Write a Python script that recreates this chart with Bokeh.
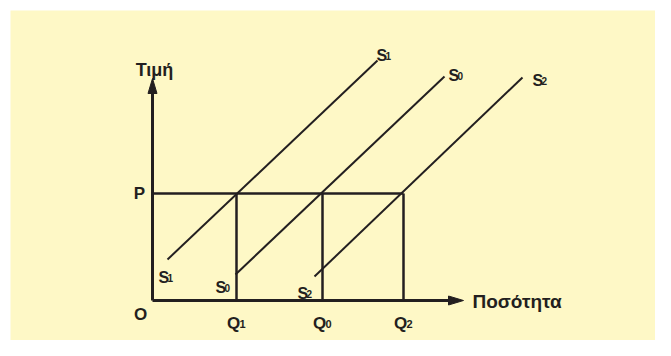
from bokeh.plotting import figure
from bokeh.models import Range1d, ColumnDataSource
from bokeh.embed import file_html
from bokeh.resources import INLINE
from bokeh.core.properties import value

# ---- diagram data (units measured from the origin O) ----
price_level = 107
price_label = "P"
origin_label = "O"
q_base = "Q"
q_subs = ["1", "0", "2"]
q_values = [84, 170, 251]
s_base = "S"
s_subs = ["1", "0", "2"]
supply_x0 = [15, 83, 162]
supply_y0 = [41, 26, 24]
supply_x1 = [225, 292, 370]
supply_y1 = [240, 224, 223]
top_label_x = [224, 296, 380]
top_label_y = [245, 225, 220]
bottom_label_x = [6, 63, 145]
bottom_label_y = [23, 13, 7]
x_axis_end = 311
y_axis_end = 222
x_title = "Ποσότητα"
y_title = "Τιμή"

INK = "#231f20"
BG = "#fef8c6"
FONT = value("Liberation Sans")

p = figure(width=655, height=340, x_range=Range1d(-142, 503), y_range=Range1d(-40, 290),
           output_backend="svg", toolbar_location=None,
           min_border_left=10, min_border_top=10, min_border_right=0, min_border_bottom=0)
p.border_fill_color = "white"
p.background_fill_color = BG
p.outline_line_color = None
p.xaxis.visible = False
p.yaxis.visible = False
p.xgrid.visible = False
p.ygrid.visible = False

# axes with arrowheads
head_len, head_half = 15, 4.5
p.segment(x0=[0, 0], y0=[0, 0], x1=[x_axis_end - head_len + 2, 0], y1=[0, y_axis_end - head_len + 2],
          line_color=INK, line_width=3)
p.patches(xs=[[x_axis_end, x_axis_end - head_len, x_axis_end - head_len],
              [0, -head_half, head_half]],
          ys=[[0, head_half, -head_half],
              [y_axis_end, y_axis_end - head_len, y_axis_end - head_len]],
          fill_color=INK, line_color=INK, line_width=1)

# price line and quantity drops
p.segment(x0=[0], y0=[price_level], x1=[max(q_values)], y1=[price_level], line_color=INK, line_width=2.5)
p.segment(x0=q_values, y0=[0] * 3, x1=q_values, y1=[price_level] * 3, line_color=INK, line_width=2.5)

# supply curves
p.segment(x0=supply_x0, y0=supply_y0, x1=supply_x1, y1=supply_y1, line_color=INK, line_width=2)

# supply labels
lab = ColumnDataSource(dict(x=top_label_x + bottom_label_x, y=top_label_y + bottom_label_y,
                            base=[s_base] * 6, sub=s_subs + s_subs))
p.text(x="x", y="y", text="base", source=lab, text_font=FONT, text_font_style="bold",
       text_font_size="16px", text_color=INK, text_align="left", text_baseline="alphabetic")
p.text(x="x", y="y", text="sub", source=lab, x_offset=9, text_font=FONT, text_font_style="bold",
       text_font_size="10px", text_color=INK, text_align="left", text_baseline="alphabetic")

# quantity labels
qlab = ColumnDataSource(dict(x=q_values, y=[-23] * 3, base=[q_base] * 3, sub=q_subs))
p.text(x="x", y="y", text="base", source=qlab, x_offset=-3, text_font=FONT, text_font_style="bold",
       text_font_size="17px", text_color=INK, text_align="center", text_baseline="alphabetic")
p.text(x="x", y="y", text="sub", source=qlab, x_offset=3, text_font=FONT, text_font_style="bold",
       text_font_size="11px", text_color=INK, text_align="left", text_baseline="alphabetic")

# P, O and axis titles
p.text(x=[-13], y=[price_level], text=[price_label], text_font=FONT, text_font_style="bold",
       text_font_size="17px", text_color=INK, text_align="center", text_baseline="middle")
p.text(x=[-12], y=[-14], text=[origin_label], text_font=FONT, text_font_style="bold",
       text_font_size="17px", text_color=INK, text_align="center", text_baseline="middle")
p.text(x=[x_axis_end + 9], y=[-1], text=[x_title], text_font=FONT, text_font_style="bold",
       text_font_size="19px", text_color=INK, text_align="left", text_baseline="middle")
p.text(x=[2], y=[y_axis_end + 9], text=[y_title], text_font=FONT, text_font_style="bold",
       text_font_size="18px", text_color=INK, text_align="center", text_baseline="alphabetic")

open("out.html", "w").write(file_html(p, INLINE))
